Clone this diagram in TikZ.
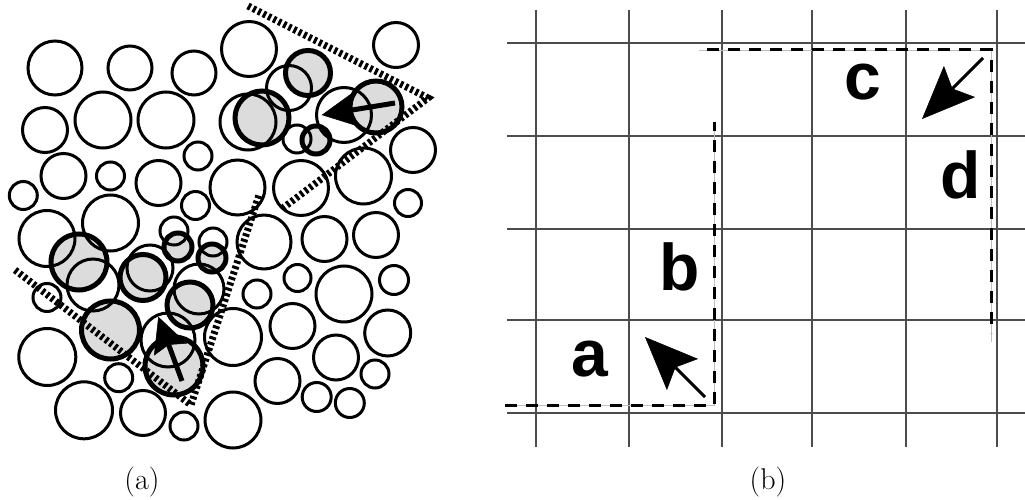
\documentclass[tikz,border=0pt]{standalone}
\usepackage{fontspec}
\newfontfamily\lblfont{Liberation Sans}
\usetikzlibrary{arrows.meta}
\definecolor{grainfill}{HTML}{DCDCDC}
\tikzset{
  grain/.style={draw=black, line width=3pt},
  movedfill/.style={fill=grainfill},
  movededge/.style={draw=black, line width=5pt},
  bandline/.style={draw=black, line width=7pt, dash pattern=on 3pt off 2.7pt},
  gridline/.style={draw=black!70, line width=1.2pt},
  pathline/.style={draw=black, line width=3pt, dash pattern=on 12pt off 9pt},
  guideline/.style={draw=black!25, line width=0.8pt},
  bigarrow/.style={draw=black, line width=3pt, -{Stealth[length=53pt, width=44pt, inset=10pt, line width=0.5pt]}},
  grainarrow/.style={draw=black, line width=5pt, -{Stealth[length=35pt, width=35pt, inset=5pt, line width=0.5pt]}},
  lbl/.style={font=\lblfont\bfseries\fontsize{66}{66}\selectfont, inner sep=0pt, anchor=base},
  caption/.style={font=\fontsize{30}{30}\selectfont, inner sep=0pt, anchor=base}
}
\begin{document}
\begin{tikzpicture}[x=1pt, y=-1pt]
\useasboundingbox (0,0) rectangle (1025,500);
% ---------- panel (a) ----------
% gray fills
\foreach \x/\y/\r in {308/73/22.5, 262/118/27, 376/107/26, 316/140/14,
  79/262/28, 178/247/14, 212/258/14, 143/277.5/23, 190/305/23, 110.5/330/29, 174/366/29}
  \path[movedfill] (\x,\y) circle[radius=\r];
% plain grains
\foreach \x/\y/\r in {55/68/27, 130/68/22, 194/73/22, 249/49/27.5, 396/45/22.5, 289/88/22.5,
  45/130/22.5, 103/120/28, 166/120/28, 198/156/14, 248/122/28, 344/115/27.5, 297/139/14, 413/150/22.5,
  63.5/176/22.5, 110.5/176/14, 158.5/183/22.5, 23.3/195.5/14, 195.5/205.5/14, 237.5/187.5/27.5,
  301/188/27.5, 363.5/176/28, 408/203/13.5, 47/238.5/28, 110.5/223/28, 174/231/14, 213/242/14,
  264/242/27, 324.5/239/22.5, 376/235/22.5, 297.5/278/13.5, 344/294/28, 394/280/14.5, 47/297.5/14,
  93/285/26, 150/268/23, 199/289/25, 257/294/14, 292.5/326/22.5, 387.7/333/23, 47.3/357/28.5,
  233/337/28.5, 336/357.5/22.5, 168/340/27, 118.7/377.7/14, 277.5/381/22.5, 375/374/14,
  84/410.3/28.5, 143/413/22.5, 233/420/28, 184/426/14, 316.7/397/14.5, 349.8/403/14.5}
  \draw[grain] (\x,\y) circle[radius=\r];
% outlines of moved grains
\foreach \x/\y/\r in {308/73/22.5, 262/118/27, 376/107/26, 316/140/14,
  79/262/28, 178/247/14, 212/258/14, 143/277.5/23, 190/305/23, 110.5/330/29, 174/366/29}
  \draw[movededge] (\x,\y) circle[radius=\r];
% shear band boundaries
\coordinate (t1) at (248,6);
\coordinate (t2) at (428,98);
\coordinate (t3) at (283,208);
\draw[bandline] (t1) -- (t2) -- (t3);
\coordinate (b1) at (15,270);
\coordinate (b2) at (191,405);
\coordinate (b3) at (259,195);
\draw[bandline] (b1) -- (b2) -- (b3);
% displacement arrows
\coordinate (ta) at (395,103);
\coordinate (th) at (321.7,115);
\draw[grainarrow] (ta) -- (th);
\coordinate (ba) at (182,381);
\coordinate (bh) at (158.3,316.7);
\draw[grainarrow] (ba) -- (bh);
\node[caption] (capa) at (142,489) {(a)};
% ---------- panel (b) ----------
\foreach \x in {536,629,722,812,906,997}
  \draw[gridline] (\x,10) -- (\x,447);
\foreach \y in {43,136,229,320,413}
  \draw[gridline] (507,\y) -- (1025,\y);
\coordinate (p0) at (505,405);
\coordinate (p1) at (505,405);
\coordinate (p2) at (714,405);
\coordinate (p3) at (714,122);
\draw[guideline] (p0) -- (p2) -- (p3);
\draw[pathline] (p1) -- (p2) -- (p3);
\coordinate (q0) at (699,50);
\coordinate (q1) at (707,50);
\coordinate (q2) at (991,50);
\coordinate (q3) at (991,333);
\coordinate (q4) at (991,342);
\draw[guideline] (q0) -- (q2) -- (q4);
\draw[pathline] (q1) -- (q2) -- (q3);
\coordinate (aa) at (705,397);
\coordinate (ah) at (645,337);
\draw[bigarrow] (aa) -- (ah);
\coordinate (ca) at (983,58);
\coordinate (ch) at (922,119);
\draw[bigarrow] (ca) -- (ch);
\node[lbl] (la) at (590,376) {a};
\node[lbl] (lb) at (680,290) {b};
\node[lbl] (lc) at (862.5,100) {c};
\node[lbl] (ld) at (961,198) {d};
\node[caption] (capb) at (768,489) {(b)};
\end{tikzpicture}
\end{document}
